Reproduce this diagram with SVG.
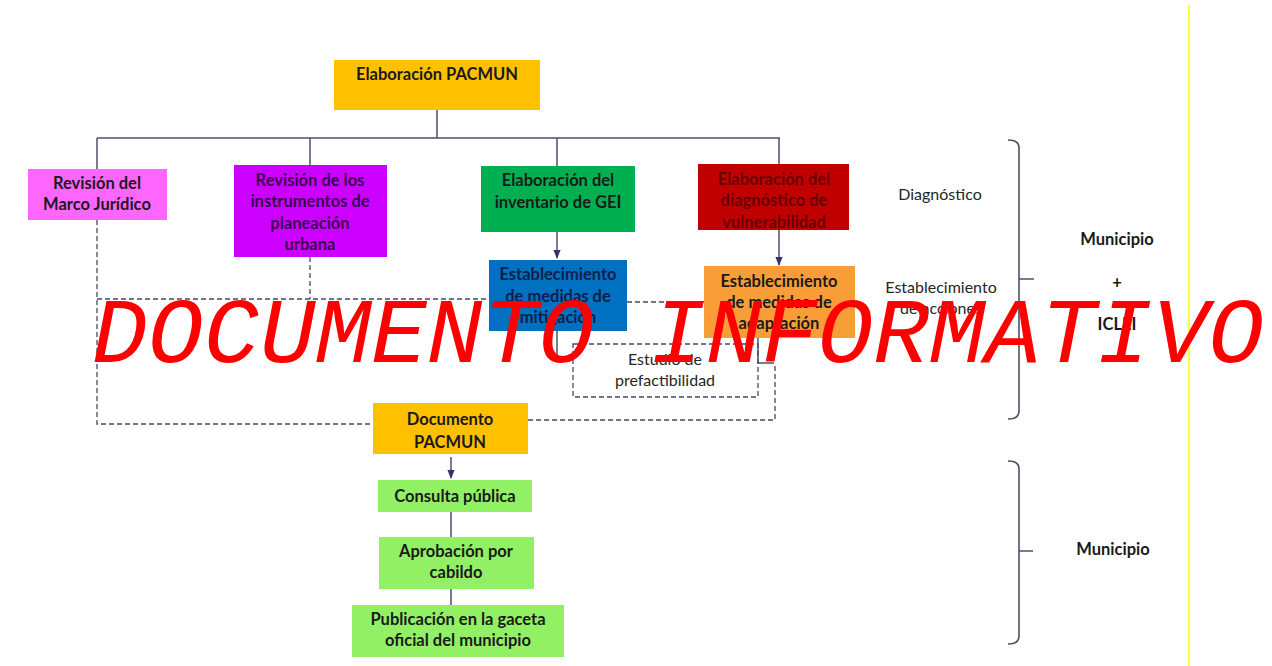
<svg xmlns="http://www.w3.org/2000/svg" width="1272" height="666" viewBox="0 0 1272 666">
<style>
.t{font-family:Lato,"Open Sans","Liberation Sans",sans-serif;font-size:16.5px;font-weight:bold;text-anchor:middle;fill:#1a1a1a}
.r{font-weight:normal;fill:#262626;font-size:16px}
.c{stroke:#4d5070;stroke-width:1.5;fill:none}
.d{stroke:#454a62;stroke-width:1.3;fill:none;stroke-dasharray:5 3}
.b{stroke:#4a5068;stroke-width:1.6;fill:none}
.wm{font-family:"Liberation Mono","DejaVu Sans Mono",monospace;font-style:italic;font-size:93px;fill:#ff0000}
</style>
<defs>
<marker id="ah" viewBox="0 0 10 10" refX="9" refY="5" markerWidth="6" markerHeight="6" orient="auto"><path d="M0,1 L10,5 L0,9 z" fill="#2f3470"/></marker>
</defs>
<rect width="1272" height="666" fill="#fff"/>
<line x1="1189" y1="5" x2="1189" y2="666" stroke="#ffff00" stroke-width="1.5"/>
<g id="connectors">
<path class="c" d="M437,110 V138 M97,138 H780 M97,138 V169 M310,138 V165 M557,138 V166 M779,138 V164"/>
<path class="c" d="M557,232 V258" marker-end="url(#ah)"/>
<path class="c" d="M779,230 V265" marker-end="url(#ah)"/>
<path class="c" d="M557,331 V358 M758,338 V363 H774"/>
<path class="d" d="M97,220 V424 H373 M310,257 V299 M97,299 H489 M627,302 H704 M528,420 H775 V363"/>
<path class="c" d="M451,457 V478" marker-end="url(#ah)"/>
<path class="c" d="M451,512 V537 M451,589 V605"/>
<path class="b" d="M1008,140 Q1019,140 1019,148 V411 Q1019,419 1008,419 M1019,279 H1034"/>
<path class="b" d="M1008,461 Q1019,461 1019,469 V636 Q1019,644 1008,644 M1019,551 H1033"/>
</g>
<g id="n-pacmun"><rect x="334" y="60" width="206" height="50" fill="#ffc000"/><text class="t" x="437" y="80">Elaboración PACMUN</text></g>
<g id="n-marco"><rect x="28" y="169" width="139" height="51" fill="#ff66ff"/><text class="t" x="97" y="189">Revisión del</text><text class="t" x="97" y="210">Marco Jurídico</text></g>
<g id="n-instrumentos"><rect x="234" y="165" width="153" height="92" fill="#cc00ff"/><text class="t" x="310" y="186" style="fill:#3a0050">Revisión de los</text><text class="t" x="310" y="207" style="fill:#3a0050">instrumentos de</text><text class="t" x="310" y="229" style="fill:#3a0050">planeación</text><text class="t" x="310" y="250" style="fill:#3a0050">urbana</text></g>
<g id="n-inventario"><rect x="481" y="166" width="154" height="66" fill="#00b050"/><text class="t" x="558" y="186">Elaboración del</text><text class="t" x="558" y="208">inventario de GEI</text></g>
<g id="n-diagnostico"><rect x="698" y="164" width="151" height="66" fill="#c00000"/><text class="t" x="774" y="185" style="fill:#6a0000">Elaboración del</text><text class="t" x="774" y="206" style="fill:#6a0000">diagnóstico de</text><text class="t" x="774" y="228" style="fill:#6a0000">vulnerabilidad</text></g>
<g id="n-mitigacion"><rect x="489" y="260" width="138" height="71" fill="#0070c0"/><text class="t" x="558" y="280" style="fill:#0d1f4a">Establecimiento</text><text class="t" x="558" y="302" style="fill:#0d1f4a">de medidas de</text><text class="t" x="558" y="323" style="fill:#0d1f4a">mitigación</text></g>
<g id="n-adaptacion"><rect x="704" y="266" width="151" height="72" fill="#f99d38"/><text class="t" x="779" y="287">Establecimiento</text><text class="t" x="779" y="308">de medidas de</text><text class="t" x="779" y="329">adaptación</text></g>
<g id="n-prefactibilidad"><rect class="d" x="573" y="344" width="185" height="53"/><text class="t r" x="665" y="365">Estudio de</text><text class="t r" x="665" y="386">prefactibilidad</text></g>
<g id="n-documento"><rect x="373" y="403" width="155" height="51" fill="#ffc000"/><text class="t" x="450" y="425">Documento</text><text class="t" x="450" y="448">PACMUN</text></g>
<g id="n-consulta"><rect x="378" y="480" width="154" height="32" fill="#92f064"/><text class="t" x="455" y="502">Consulta pública</text></g>
<g id="n-aprobacion"><rect x="379" y="537" width="155" height="52" fill="#92f064"/><text class="t" x="456" y="557">Aprobación por</text><text class="t" x="456" y="578">cabildo</text></g>
<g id="n-publicacion"><rect x="352" y="605" width="212" height="52" fill="#92f064"/><text class="t" x="458" y="625">Publicación en la gaceta</text><text class="t" x="458" y="646">oficial del municipio</text></g>
<g id="labels">
<text class="t r" x="940" y="200">Diagnóstico</text>
<text class="t r" x="941" y="293">Establecimiento</text>
<text class="t r" x="941" y="314">de acciones</text>
<text class="t" x="1117" y="245">Municipio</text>
<text class="t" x="1117" y="288">+</text>
<text class="t" x="1117" y="330">ICLEI</text>
<text class="t" x="1113" y="555">Municipio</text>
</g>
<text class="wm" x="92" y="362" textLength="1172">DOCUMENTO INFORMATIVO</text>
</svg>
